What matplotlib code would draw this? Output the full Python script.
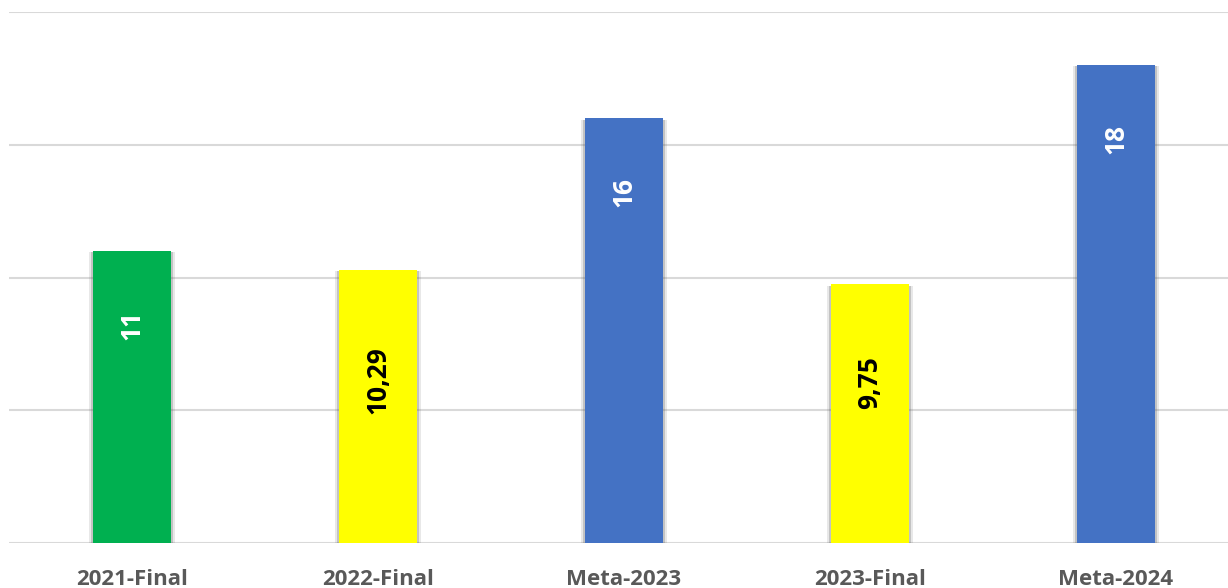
import matplotlib
matplotlib.use("Agg")
import matplotlib.pyplot as plt
import matplotlib.patheffects as pe

categories = ["2021-Final", "2022-Final", "Meta-2023", "2023-Final", "Meta-2024"]
values = [11, 10.29, 16, 9.75, 18]
labels = ["11", "10,29", "16", "9,75", "18"]
colors = ["#00B050", "#FFFF00", "#4472C4", "#FFFF00", "#4472C4"]
label_colors = ["white", "black", "white", "black", "white"]

fig = plt.figure(figsize=(12.28, 5.88), dpi=100)
ax = fig.add_axes([9/1228, 45/588, 1230/1228, 531/588])

x = list(range(len(categories)))
bars = ax.bar(x, values, width=0.317, color=colors, zorder=3)
for b in bars:
    b.set_path_effects([pe.SimplePatchShadow(offset=(3, -1), shadow_rgbFace="#666666", alpha=0.15),
                        pe.SimplePatchShadow(offset=(-3, -1), shadow_rgbFace="#666666", alpha=0.15),
                        pe.SimplePatchShadow(offset=(1.5, -1), shadow_rgbFace="#555555", alpha=0.25),
                        pe.SimplePatchShadow(offset=(-1.5, -1), shadow_rgbFace="#555555", alpha=0.25),
                        pe.Normal()])

ax.set_xlim(-0.5, len(categories) - 0.5)
ax.set_ylim(0, 20)
ax.set_yticks([0, 5, 10, 15, 20])
ax.yaxis.grid(True, color="#D9D9D9", linewidth=1.5, zorder=0)
ax.set_axisbelow(True)
ax.tick_params(axis="y", left=False, labelleft=False)
ax.tick_params(axis="x", bottom=False, pad=15)
for s in ax.spines.values():
    s.set_visible(False)
ax.set_xticks(x)
ax.set_xticklabels(categories, fontsize=16, fontweight="bold", color="#595959", family="Open Sans")

for xi, v, lab, c in zip(x, values, labels, label_colors):
    off = 74 + 12 * (len(lab) - 2)
    ax.annotate(lab, (xi, v), xytext=(0, -off), textcoords="offset pixels",
                rotation=90, ha="center", va="center", fontsize=19, fontweight="bold",
                color=c, family="Open Sans", zorder=4)

fig.savefig("out.png", dpi=100)
